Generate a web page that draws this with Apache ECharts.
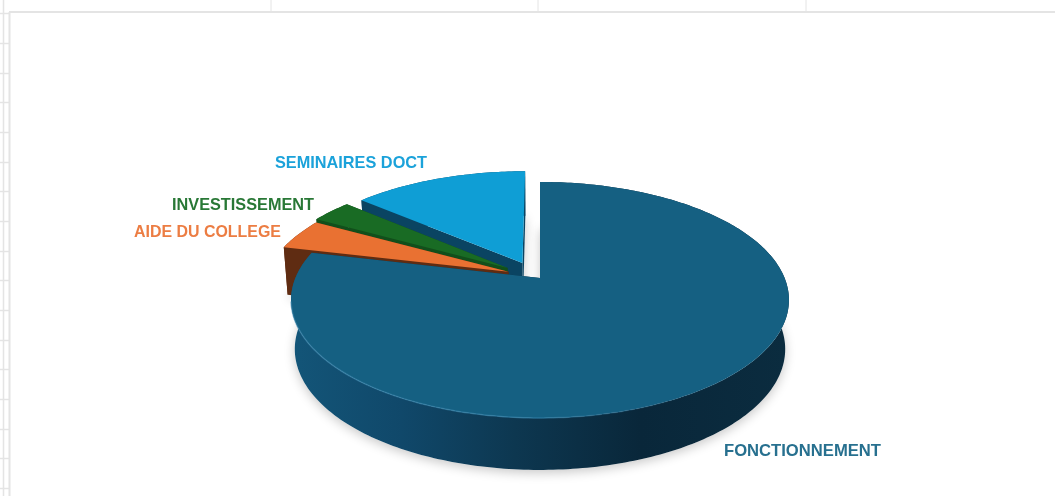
<!DOCTYPE html>
<html>
<head>
<meta charset="utf-8">
<style>
  html, body { margin: 0; padding: 0; background: #fff; }
  #main { width: 1055px; height: 496px; }
</style>
<script src="https://cdn.jsdelivr.net/npm/echarts@6/dist/echarts.min.js"></script>
</head>
<body>
<div id="main"></div>
<script>
// valeurs (en %)
var categories = ['FONCTIONNEMENT', 'AIDE DU COLLEGE', 'INVESTISSEMENT', 'SEMINAIRES DOCT'];
var values = [78.7, 4.3, 3.2, 13.8];

// decalage des parts eclatees, en fraction du rayon
var explodeX = [0, -0.13, -0.135, -0.0736];
var explodeY = [0, 0.055, 0.09, 0.135];

var topColors = ['#156082', '#E97132', '#196B24', '#0F9ED5'];
var sideColors = ['#0c3348', '#5f2c12', '#124f1b', '#0a4462'];
var textColors = ['#27708f', '#ec7d43', '#297836', '#1ba2da'];
var labelX = [724, 134, 172, 275];
var labelY = [451, 232, 205, 163];
var labelW = [157, 147, 142, 152];

// projection du disque en perspective
var cx = 540, cy = 278, radius = 244.6, tilt = 113.9, persp = 0.186;
var depth = 48.5, depthVar = 3.5, baseScale = 0.985;
var drawOrder = [34, 24, 14, 4];

var total = values.reduce(function (a, b) { return a + b; }, 0);

function project(s, c) {
  var w = 1 + persp * c;
  return [cx + radius * s / w, cy - tilt * c / w];
}
function lower(p, c) {
  return [cx + (p[0] - cx) * baseScale, p[1] + depth - depthVar * c];
}
function sliceGeom(index) {
  var before = 0;
  for (var i = 0; i < index; i++) before += values[i];
  var a0 = before / total * Math.PI * 2;
  var a1 = (before + values[index]) / total * Math.PI * 2;
  var ox = explodeX[index];
  var oy = explodeY[index];
  var arcTop = [], arcLow = [];
  var n = Math.max(8, Math.round((a1 - a0) * 60));
  for (var k = 0; k <= n; k++) {
    var a = a0 + (a1 - a0) * k / n;
    var c = Math.cos(a) + oy;
    var p = project(Math.sin(a) + ox, c);
    arcTop.push(p);
    arcLow.push(lower(p, c));
  }
  var vTop = project(ox, oy);
  var vLow = lower(vTop, oy);
  return { arcTop: arcTop, arcLow: arcLow, vTop: vTop, vLow: vLow };
}

function renderSlice(params, api) {
  var i = api.value(0);
  var g = sliceGeom(i);
  var base = drawOrder[i];
  var children = [];
  var sideFill = sideColors[i];
  if (i === 0) {
    sideFill = {
      type: 'linear', x: 292, y: 0, x2: 789, y2: 0, global: true,
      colorStops: [
        { offset: 0, color: '#135578' },
        { offset: 0.22, color: '#10486a' },
        { offset: 0.45, color: '#0d3750' },
        { offset: 0.7, color: '#09273a' },
        { offset: 1, color: '#0b2c3f' }
      ]
    };
  }
  // ombre portee sous la part
  children.push({
    type: 'polygon', z2: 0,
    shape: { points: [g.vLow].concat(g.arcLow) },
    style: { fill: '#fff', shadowBlur: 11, shadowColor: 'rgba(0,0,0,0.22)', shadowOffsetY: 3 }
  });
  // faces de coupe
  var last = g.arcTop.length - 1;
  children.push({
    type: 'polygon', z2: base,
    shape: { points: [g.vTop, g.arcTop[0], g.arcLow[0], g.vLow] },
    style: { fill: sideColors[i] }
  });
  children.push({
    type: 'polygon', z2: base,
    shape: { points: [g.vTop, g.arcTop[last], g.arcLow[last], g.vLow] },
    style: { fill: sideColors[i] }
  });
  // paroi exterieure
  children.push({
    type: 'polygon', z2: base + 1,
    shape: { points: g.arcTop.concat(g.arcLow.slice().reverse()) },
    style: { fill: sideFill }
  });
  // dessus
  children.push({
    type: 'polygon', z2: base + 2,
    shape: { points: [g.vTop].concat(g.arcTop) },
    style: { fill: topColors[i] }
  });
  // biseau clair sur le bord avant
  if (i === 0) {
    var rim = g.arcTop.filter(function (p) { return p[1] > 300; });
    children.push({
      type: 'polyline', z2: base + 3,
      shape: { points: rim },
      style: {
        fill: null, lineWidth: 1.5,
        stroke: {
          type: 'linear', x: 292, y: 0, x2: 789, y2: 0, global: true,
          colorStops: [
            { offset: 0, color: 'rgba(60,135,175,0.55)' },
            { offset: 0.5, color: 'rgba(45,125,165,0.7)' },
            { offset: 0.8, color: 'rgba(30,90,125,0.2)' },
            { offset: 1, color: 'rgba(21,96,130,0)' }
          ]
        }
      }
    });
  }
  return { type: 'group', children: children };
}

// fond de feuille de calcul
var sheet = [];
var lineColor = '#e4e4e4';
[271, 538, 806].forEach(function (x) {
  sheet.push({ type: 'line', shape: { x1: x, y1: 0, x2: x, y2: 12 }, style: { stroke: lineColor, lineWidth: 1 }, silent: true });
});
sheet.push({ type: 'line', shape: { x1: 3.5, y1: 0, x2: 3.5, y2: 496 }, style: { stroke: lineColor, lineWidth: 1.5 }, silent: true });
for (var r = 0; r < 17; r++) {
  var ry = Math.round(13.4 + 29.67 * r) + 0.5;
  sheet.push({ type: 'line', shape: { x1: 0, y1: ry, x2: 9, y2: ry }, style: { stroke: lineColor, lineWidth: 1.5 }, silent: true });
}
sheet.push({ type: 'line', shape: { x1: 9.5, y1: 12, x2: 9.5, y2: 496 }, style: { stroke: lineColor, lineWidth: 2 }, silent: true });
sheet.push({ type: 'line', shape: { x1: 9, y1: 12, x2: 1055, y2: 12 }, style: { stroke: lineColor, lineWidth: 2 }, silent: true });

var labelFont = 'bold 17px "Liberation Sans", sans-serif';
var measure = document.createElement('canvas').getContext('2d');
measure.font = labelFont;
categories.forEach(function (name, i) {
  sheet.push({
    type: 'text', x: labelX[i], y: labelY[i], silent: true,
    scaleX: labelW[i] / measure.measureText(name).width,
    style: {
      text: name, fill: textColors[i], verticalAlign: 'middle', align: 'left',
      font: labelFont
    }
  });
});

var myChart = echarts.init(document.getElementById('main'), null, { renderer: 'canvas' });
myChart.setOption({
  animation: false,
  backgroundColor: '#fff',
  graphic: { elements: sheet },
  series: [{
    type: 'custom',
    coordinateSystem: 'none',
    silent: true,
    renderItem: renderSlice,
    data: values.map(function (v, i) { return [i, v]; })
  }]
});
</script>
</body>
</html>
